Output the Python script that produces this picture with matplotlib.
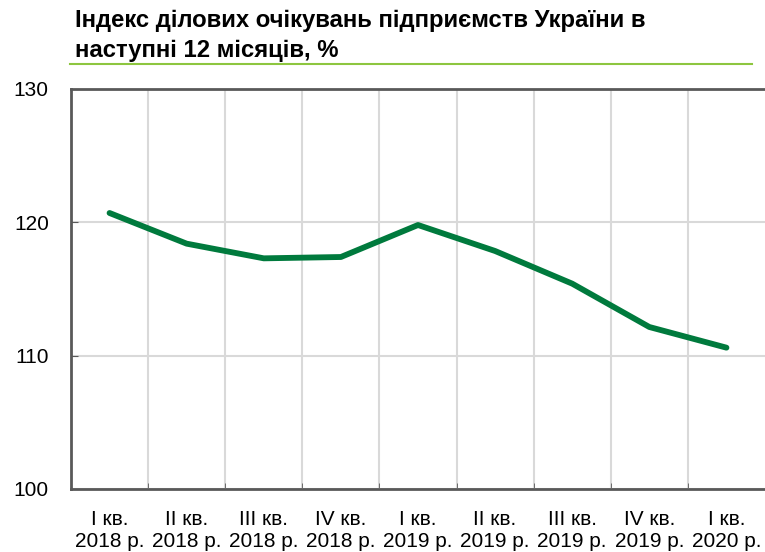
import matplotlib
matplotlib.use("Agg")
import matplotlib.pyplot as plt
from matplotlib import font_manager as fm

categories = ["I кв.\n2018 р.", "II кв.\n2018 р.", "III кв.\n2018 р.", "IV кв.\n2018 р.",
              "I кв.\n2019 р.", "II кв.\n2019 р.", "III кв.\n2019 р.", "IV кв.\n2019 р.",
              "I кв.\n2020 р."]
values = [120.7, 118.4, 117.3, 117.4, 119.8, 117.85, 115.4, 112.15, 110.6]
yticks = [100, 110, 120, 130]
title = "Індекс ділових очікувань підприємств України в\nнаступні 12 місяців, %"

names = {f.name for f in fm.fontManager.ttflist}
title_font = "Liberation Sans Narrow" if "Liberation Sans Narrow" in names else "Liberation Sans"

plt.rcParams['font.family'] = ['Liberation Sans', 'DejaVu Sans']

fig = plt.figure(figsize=(7.65, 5.52), dpi=100)
W, H = 765, 552
left, right, top, bottom = 71, 765, 89, 489
ax = fig.add_axes([left / W, 1 - bottom / H, (right - left) / W, (bottom - top) / H])

x = list(range(len(values)))
ax.plot(x, values, color="#007a3d", lw=4.2, solid_capstyle="round", solid_joinstyle="round", zorder=3)

ax.set_xlim(-0.5, len(values) - 0.5)
ax.set_ylim(100, 130)
ax.set_yticks(yticks)
ax.set_xticks(x)
ax.set_xticklabels(categories, fontsize=15, linespacing=1.22)
ax.set_xticks([i + 0.5 for i in range(len(values) - 1)], minor=True)
ax.tick_params(axis="x", which="major", length=0, pad=15)
ax.tick_params(axis="x", which="minor", length=4, direction="in", color="#595959")
ax.tick_params(axis="y", length=5, direction="in", color="#595959", labelsize=15, pad=16)
ax.grid(axis="y", color="#d9d9d9", lw=1.5, zorder=1)
ax.grid(axis="x", which="minor", color="#d9d9d9", lw=1.5, zorder=1)
for s in ["left", "bottom", "top"]:
    ax.spines[s].set_color("#595959")
    ax.spines[s].set_linewidth(2)
ax.spines["right"].set_visible(False)

fig.text(75 / W, 1 - 9 / H, title, fontsize=17.2, fontweight="bold", family=[title_font, 'DejaVu Sans'],
         va="top", ha="left", linespacing=1.38)
fig.add_artist(plt.Line2D([70 / W, 752 / W], [1 - 64 / H, 1 - 64 / H], color="#8dc63f", lw=1.5))

fig.savefig("out.png", dpi=100)
